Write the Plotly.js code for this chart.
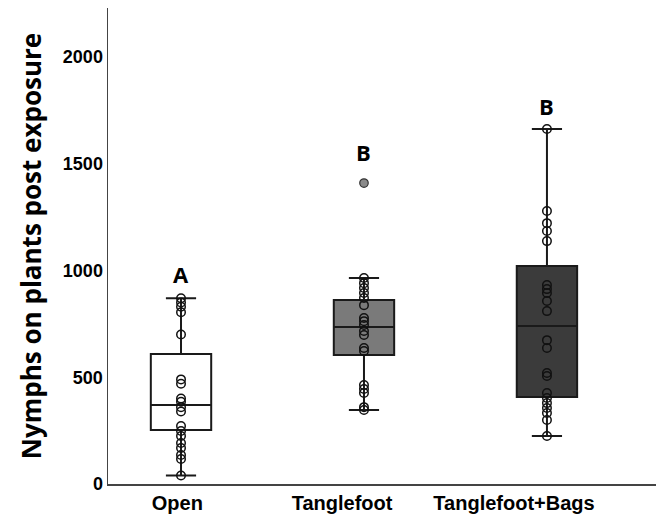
<!DOCTYPE html>
<html>
<head>
<meta charset="utf-8">
<script src="https://cdn.plot.ly/plotly-3.0.1.min.js"></script>
<style>html,body{margin:0;padding:0;background:#fff;}#chart{width:656px;height:519px;}</style>
</head>
<body>
<div id="chart"></div>
<script>
// Categories and letters
const categories = ["Open", "Tanglefoot", "Tanglefoot+Bags"];
const sigLetters = ["A", "B", "B"];
const letterY = [985, 1555, 1770];

// Box summary statistics
const q1 = [253, 604, 407];
const medians = [370, 735, 740];
const q3 = [609, 862, 1021];
const lowerFence = [40, 347, 225];
const upperFence = [870, 965, 1663];

// Individual observations
const openPts = [870, 850, 830, 805, 700, 490, 470, 400, 385, 360, 340, 272, 248, 225, 192, 169, 136, 117, 40];
const tanglePts = [965, 941, 918, 895, 871, 838, 778, 763, 745, 717, 698, 637, 623, 464, 445, 426, 360, 347];
const tangleOutliers = [1410];
const bagsPts = [1663, 1279, 1222, 1185, 1138, 932, 913, 895, 857, 810, 674, 637, 520, 506, 426, 403, 379, 356, 333, 300, 225];

const boxFills = ["#ffffff", "#7a7a7a", "#3b3b3b"];
const yTicks = [0, 500, 1000, 1500, 2000];
const labelPos = [-0.02, 0.88, 1.82];

const groups = [openPts, tanglePts, bagsPts];
const traces = [];
categories.forEach((c, i) => {
  traces.push({
    type: "box", x: [i], q1: [q1[i]], median: [medians[i]], q3: [q3[i]],
    lowerfence: [lowerFence[i]], upperfence: [upperFence[i]],
    boxpoints: false, width: 0.33, whiskerwidth: 0.5,
    fillcolor: boxFills[i], line: {color: "#1a1a1a", width: 2},
    hoverinfo: "skip", showlegend: false
  });
});
groups.forEach((pts, i) => {
  traces.push({
    type: "scatter", mode: "markers", x: pts.map(() => i), y: pts,
    marker: {symbol: "circle-open", size: 8.5, color: "#111", line: {width: 1.5, color: "#111"}},
    showlegend: false, hoverinfo: "skip"
  });
});
traces.push({
  type: "scatter", mode: "markers", x: tangleOutliers.map(() => 1), y: tangleOutliers,
  marker: {symbol: "circle", size: 8.5, color: "#8a8a8a", line: {width: 1.2, color: "#333"}},
  showlegend: false, hoverinfo: "skip"
});

const annotations = sigLetters.map((t, i) => ({
  x: i, y: letterY[i], xref: "x", yref: "y", text: t, showarrow: false,
  font: {family: "Open Sans, Arial", size: 22, color: "#000", weight: 700}
}));

const layout = {
  width: 656, height: 519,
  margin: {l: 108, r: 0, t: 8, b: 35},
  paper_bgcolor: "#fff", plot_bgcolor: "#fff",
  xaxis: {
    range: [-0.399, 2.596], showgrid: false, zeroline: false,
    showline: true, linecolor: "#444", linewidth: 1.5,
    tickmode: "array", tickvals: labelPos, ticktext: categories, ticks: "",
    tickfont: {family: "Liberation Sans, Arial", size: 20, color: "#000", weight: 700}
  },
  yaxis: {
    range: [0, 2230], showgrid: false, zeroline: false,
    showline: true, linecolor: "#444", linewidth: 1.5,
    tickmode: "array", tickvals: yTicks, ticks: "",
    tickfont: {family: "Liberation Sans, Arial", size: 18, color: "#000", weight: 700},
    title: {text: "Nymphs on plants post exposure", standoff: 14,
      font: {family: "Open Sans, Arial", size: 26, color: "#000", weight: 700}}
  },
  annotations: annotations
};

Plotly.newPlot("chart", traces, layout, {displayModeBar: false, staticPlot: true});
</script>
</body>
</html>
